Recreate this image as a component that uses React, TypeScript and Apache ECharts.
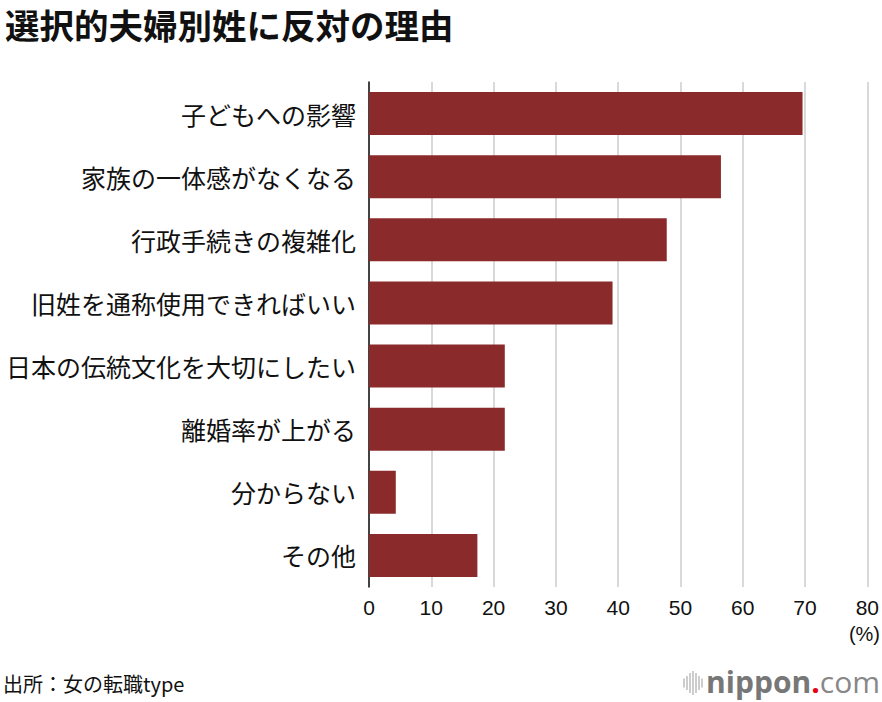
import React, { useEffect, useRef } from "react";
import * as echarts from "echarts";

const categories = [
  "子どもへの影響",
  "家族の一体感がなくなる",
  "行政手続きの複雑化",
  "旧姓を通称使用できればいい",
  "日本の伝統文化を大切にしたい",
  "離婚率が上がる",
  "分からない",
  "その他",
];
const values = [69.6, 56.5, 47.8, 39.1, 21.8, 21.8, 4.3, 17.4];
const titleText = "選択的夫婦別姓に反対の理由";
const sourceText = "出所：女の転職type";
const unitText = "(%)";

const FONT = '"Noto Sans CJK JP", "Noto Sans", sans-serif';
const NUMFONT = '"Liberation Sans", Arial, sans-serif';

const iconHeights = [9, 14, 20, 24, 20, 14, 9];

export default function App() {
  const ref = useRef<HTMLDivElement>(null);
  useEffect(() => {
    if (!ref.current) return;
    const chart = echarts.init(ref.current, undefined, { renderer: "svg" });
    const iconLines = iconHeights.map((h, i) => ({
      type: "line",
      shape: { x1: 684 + i * 3, y1: 683 - h / 2, x2: 684 + i * 3, y2: 683 + h / 2 },
      style: { stroke: "#bdbdbd", lineWidth: 1.5 },
    }));
    chart.setOption({
      animation: false,
      backgroundColor: "#ffffff",
      textStyle: { fontFamily: FONT },
      title: {
        text: titleText,
        left: 0,
        top: 2,
        textStyle: { fontSize: 34.5, fontWeight: "bold", color: "#111", fontFamily: FONT },
      },
      grid: { left: 369, right: 13, top: 82, bottom: 115, containLabel: false },
      xAxis: {
        type: "value",
        min: 0,
        max: 80,
        interval: 10,
        axisLine: { show: false },
        axisTick: { show: false },
        axisLabel: { fontSize: 21, color: "#111", margin: 10, fontFamily: NUMFONT },
        splitLine: { show: true, lineStyle: { color: "#cccccc", width: 1.5 } },
      },
      yAxis: {
        type: "category",
        inverse: true,
        data: categories,
        axisLine: { show: true, lineStyle: { color: "#111", width: 1.5 } },
        axisTick: { show: false },
        axisLabel: { fontSize: 25, color: "#111", margin: 13, fontFamily: FONT },
      },
      series: [
        {
          type: "bar",
          data: values,
          barWidth: "68%",
          itemStyle: { color: "#8b2a2b" },
          silent: true,
        },
      ],
      graphic: [
        {
          type: "text",
          right: 2,
          top: 624,
          style: { text: unitText, fontSize: 20, fill: "#111", fontFamily: NUMFONT },
        },
        {
          type: "text",
          left: 3,
          top: 673,
          style: { text: sourceText, fontSize: 20, fill: "#111", fontFamily: FONT },
        },
        ...iconLines,
        {
          type: "text",
          right: 2,
          top: 666,
          style: {
            text: "{a|nippon}{b|.}{c|com}",
            fontFamily: FONT,
            rich: {
              a: { fontSize: 30, fontWeight: "bold", fill: "#777", fontFamily: "Open Sans, sans-serif" },
              b: { fontSize: 30, fontWeight: "bold", fill: "#e60012", fontFamily: "Open Sans, sans-serif" },
              c: { fontSize: 30, fontWeight: "normal", fill: "#888", fontFamily: "Open Sans, sans-serif" },
            },
          },
        },
      ],
    });
    return () => chart.dispose();
  }, []);
  return (
    <div
      ref={ref}
      style={{ position: "absolute", left: 0, top: 0, width: 882, height: 702 }}
    />
  );
}
